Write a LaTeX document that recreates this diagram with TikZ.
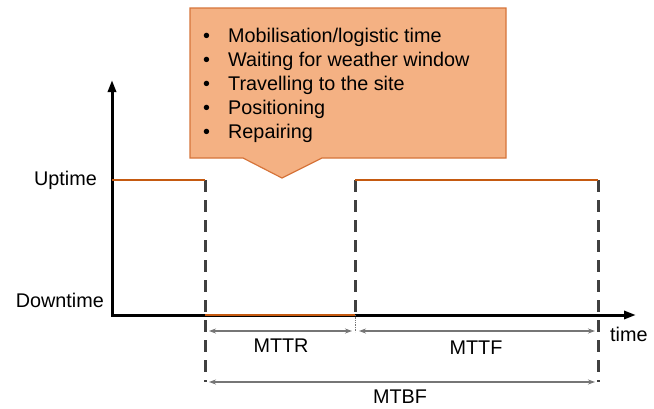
\documentclass[tikz,border=0pt]{standalone}
\usepackage{fontspec}
\setmainfont{Liberation Sans}
\usetikzlibrary{arrows.meta}
\definecolor{stateorange}{RGB}{197,90,17}
\definecolor{calloutfill}{RGB}{244,177,131}
\definecolor{calloutedge}{RGB}{214,116,58}
\definecolor{limitgray}{RGB}{64,64,64}
\definecolor{spangray}{RGB}{118,118,118}

\begin{document}
\begin{tikzpicture}[x=1pt,y=-1pt]
% Styles
\tikzset{
axis/.style={line width=3pt, line join=miter, {Triangle[length=12pt,width=8pt]}-{Triangle[length=12pt,width=8pt]}},
state/.style={draw=stateorange, line width=2.6pt},
limit/.style={draw=limitgray, line width=3pt, dash pattern=on 12pt off 8pt},
span/.style={draw=spangray, line width=1.1pt, {Stealth[length=7pt,width=5pt]}-{Stealth[length=7pt,width=5pt]}},
lbl/.style={font=\fontsize{19.8}{24}\selectfont, inner sep=0pt}
}
\useasboundingbox (0,0) rectangle (654,408);
% Callout
\draw[fill=calloutfill, draw=calloutedge, line width=1.2pt]
  (190,8) -- (506,8) -- (506,158) -- (322,158) -- (282,178) -- (243,158) -- (190,158) -- cycle;
\node[lbl, anchor=north west, align=left] (tasks) at (203,28) {%
\makebox[25pt][l]{\textbullet}Mobilisation/logistic time\\
\makebox[25pt][l]{\textbullet}Waiting for weather window\\
\makebox[25pt][l]{\textbullet}Travelling to the site\\
\makebox[25pt][l]{\textbullet}Positioning\\
\makebox[25pt][l]{\textbullet}Repairing};
% Axes
\coordinate (O) at (112,315);
\coordinate (ytop) at (112,80);
\coordinate (xend) at (636,315);
\draw[axis] (ytop) -- (O) -- (xend);
\node[lbl, anchor=east] (up) at (97,180) {Uptime};
\node[lbl, anchor=east] (down) at (104,300) {Downtime};
\node[lbl, anchor=west] (time) at (610,334) {time};
% Time instants
\coordinate (fail) at (205,180);
\coordinate (failb) at (205,315);
\coordinate (failend) at (205,382);
\coordinate (rep) at (355,180);
\coordinate (repb) at (355,315);
\coordinate (repend) at (355,332);
\coordinate (fail2) at (598,180);
\coordinate (fail2end) at (598,382);
% Limits
\draw[limit] (fail) -- (failend);
\draw[limit] (rep) -- (repb);
\draw[limit] (fail2) -- (fail2end);
\draw[spangray, densely dotted, line width=0.7pt] (repb) -- (repend);
% States
\draw[state] (112,180) -- (fail);
\draw[state, line width=1.5pt] (failb) -- (repb);
\draw[state] (rep) -- (fail2);
% Durations
\draw[span] (209,331) -- (352,331);
\draw[span] (359,331) -- (595,331);
\draw[span] (209,382) -- (595,382);
\node[lbl] (mttr) at (281,346) {MTTR};
\node[lbl] (mttf) at (476,348) {MTTF};
\node[lbl] (mtbf) at (400,397) {MTBF};
\end{tikzpicture}
\end{document}
